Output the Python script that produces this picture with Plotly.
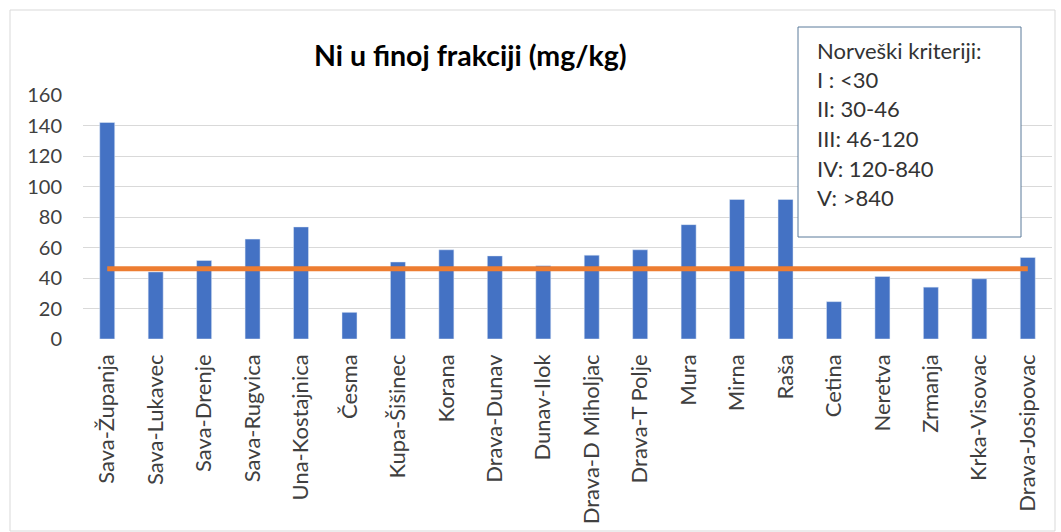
import plotly.graph_objects as go

categories = ["Sava-Županja", "Sava-Lukavec", "Sava-Drenje", "Sava-Rugvica", "Una-Kostajnica",
              "Česma", "Kupa-Šišinec", "Korana", "Drava-Dunav", "Dunav-Ilok",
              "Drava-D Miholjac", "Drava-T Polje", "Mura", "Mirna", "Raša",
              "Cetina", "Neretva", "Zrmanja", "Krka-Visovac", "Drava-Josipovac"]
ni_values = [142, 44, 51.5, 65.5, 73.5, 17.5, 50.5, 58.5, 54.5, 48, 55, 58.5, 75, 91.5, 91.5,
             24.5, 41, 34, 39.5, 53.5]
criterion_value = 46
criterion_line = [criterion_value] * len(categories)
box_lines = ["Norveški kriteriji:", "I : &lt;30", "II: 30-46", "III: 46-120", "IV: 120-840", "V: &gt;840"]
title_text = "Ni u finoj frakciji (mg/kg)"

W, H = 1061, 532
ml, mr, mt, mb = 83, 9, 95, 193
pw, ph = W - ml - mr, H - mt - mb

def px(x):
    return (x - ml) / pw

def py(y):
    return 1 - (y - mt) / ph

font_family = "Lato, 'Open Sans', sans-serif"

fig = go.Figure()
fig.add_trace(go.Bar(x=categories, y=ni_values, marker_color="#4472C4", showlegend=False))
fig.add_trace(go.Scatter(x=categories, y=criterion_line, mode="lines",
                         line=dict(color="#ED7D31", width=5), showlegend=False))

shapes = [
    dict(type="rect", xref="paper", yref="paper", x0=px(10), x1=px(1055), y0=py(10), y1=py(531),
         line=dict(color="#D9D9D9", width=1), fillcolor="rgba(0,0,0,0)", layer="below"),
    dict(type="rect", xref="paper", yref="paper", x0=px(798), x1=px(1021), y0=py(27), y1=py(237),
         line=dict(color="#5B7B9A", width=1), fillcolor="white", layer="above"),
]
annotations = [
    dict(text="<b>" + title_text + "</b>", xref="paper", yref="paper", x=px(470), y=py(55),
         showarrow=False, font=dict(size=28.5, color="black", family=font_family),
         xanchor="center", yanchor="middle"),
]
for i, t in enumerate(box_lines):
    annotations.append(dict(text=t, xref="paper", yref="paper", x=px(815), y=py(50 + i * 29.5),
                            showarrow=False, xanchor="left", yanchor="middle",
                            font=dict(size=22, color="#333333", family=font_family)))

fig.update_layout(
    width=W, height=H, margin=dict(l=ml, r=mr, t=mt, b=mb),
    paper_bgcolor="white", plot_bgcolor="white",
    bargap=0.69, shapes=shapes, annotations=annotations,
    font=dict(family=font_family, color="#404040"),
    xaxis=dict(tickangle=-90, tickfont=dict(size=22, color="#404040"), showgrid=False,
               showline=False, ticks="", ticklabelstandoff=10),
    yaxis=dict(range=[0, 160], dtick=20, tickfont=dict(size=20, color="#404040"),
               showgrid=True, gridcolor="#D9D9D9", gridwidth=1, zeroline=False,
               showline=False, ticks="", ticklabelstandoff=20),
)
fig.write_html("out.html", config={"displayModeBar": False},
               post_script="document.body.style.margin='0';document.body.style.overflow='hidden';")
